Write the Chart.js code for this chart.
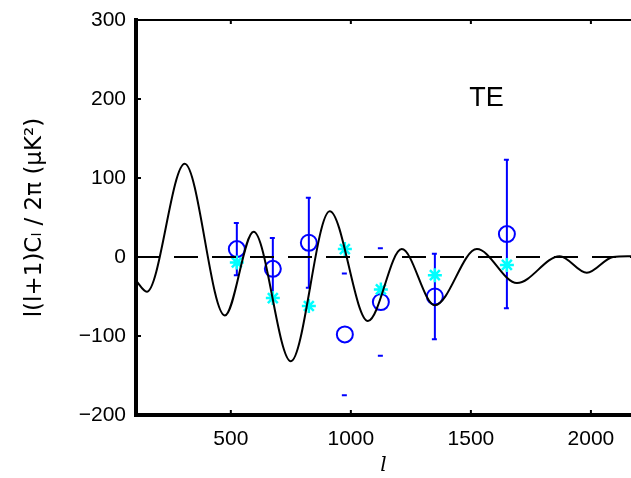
<!DOCTYPE html>
<html>
<head>
<meta charset="utf-8">
<script src="https://cdn.jsdelivr.net/npm/chart.js@4.4.0/dist/chart.umd.min.js"></script>
<style>
  html, body { margin: 0; padding: 0; background: #fff; }
</style>
</head>
<body>
<canvas id="teChart" width="631" height="478"></canvas>
<script>
// theory TE curve, its turning points (l, value)
var curveL  = [105, 150, 308, 475, 595, 750, 912, 1071, 1212, 1350, 1525, 1692, 1870, 1983, 2092, 2167];
var curveTE = [-30, -44, 118, -74, 32, -132, 58, -81, 10, -61, 10, -33, 1, -20, 0, 1];

// band powers (blue circles) with errors
var binL   = [525, 675, 825, 975, 1125, 1350, 1650];
var binTE  = [10, -15, 18, -98, -57, -50, 29];
var binErr = [33, 39, 57, 77, 68, 54, 94];
// these bins only show the caps of their error bar
var capOnly = [975, 1125];

// binned model (cyan stars)
var modelTE = [-7, -52, -62, 10, -41, -23, -10];

var xTicks = [500, 1000, 1500, 2000];
var yTicks = [-200, -100, 0, 100, 200, 300];
var xRange = [105, 2167];
var yRange = [-200, 300];

function pts(xs, ys) {
    return xs.map(function (x, i) { return { x: x, y: ys[i] }; });
}

var extras = {
    id: 'extras',
    beforeDatasetsDraw: function (chart) {
        var ctx = chart.ctx, xs = chart.scales.x, ys = chart.scales.y;
        ctx.save();
        ctx.strokeStyle = '#0000ff';
        ctx.lineWidth = 2;
        binL.forEach(function (l, i) {
            var px = xs.getPixelForValue(l);
            var top = ys.getPixelForValue(binTE[i] + binErr[i]);
            var bot = ys.getPixelForValue(binTE[i] - binErr[i]);
            ctx.beginPath();
            if (capOnly.indexOf(l) < 0) {
                ctx.moveTo(px, top);
                ctx.lineTo(px, bot);
            }
            ctx.moveTo(px - 3, top); ctx.lineTo(px + 2, top);
            ctx.moveTo(px - 3, bot); ctx.lineTo(px + 2, bot);
            ctx.stroke();
        });
        ctx.restore();
    },
    afterDraw: function (chart) {
        var ctx = chart.ctx, a = chart.chartArea, xs = chart.scales.x, ys = chart.scales.y;
        ctx.save();
        ctx.strokeStyle = '#000';
        // top frame
        ctx.lineWidth = 2;
        ctx.beginPath();
        ctx.moveTo(a.left, a.top);
        ctx.lineTo(a.right, a.top);
        ctx.stroke();
        // inward ticks
        ctx.beginPath();
        xTicks.forEach(function (v) {
            var px = xs.getPixelForValue(v);
            ctx.moveTo(px, a.top); ctx.lineTo(px, a.top + 4);
            ctx.moveTo(px, a.bottom); ctx.lineTo(px, a.bottom - 5);
        });
        yTicks.forEach(function (v) {
            var py = ys.getPixelForValue(v);
            ctx.moveTo(a.left, py); ctx.lineTo(a.left + 5, py);
        });
        ctx.stroke();
        // panel label
        ctx.fillStyle = '#000';
        ctx.font = '27px "Liberation Sans"';
        ctx.textAlign = 'center';
        ctx.textBaseline = 'middle';
        ctx.fillText('TE', xs.getPixelForValue(1565), ys.getPixelForValue(200));
        ctx.restore();
    }
};

var chart = new Chart(document.getElementById('teChart'), {
    type: 'scatter',
    data: {
        datasets: [
            {
                label: 'zero',
                data: pts(xRange, [0, 0]),
                showLine: true,
                borderColor: '#000',
                borderWidth: 2,
                borderDash: [24, 14],
                pointRadius: 0
            },
            {
                label: 'theory',
                data: pts(curveL, curveTE),
                showLine: true,
                borderColor: '#000',
                borderWidth: 2,
                cubicInterpolationMode: 'monotone',
                pointRadius: 0
            },
            {
                label: 'model',
                data: pts(binL, modelTE),
                pointStyle: 'star',
                pointRadius: 7,
                borderColor: '#00ffff',
                backgroundColor: '#00ffff',
                pointBorderWidth: 2.5
            },
            {
                label: 'data',
                data: pts(binL, binTE),
                pointStyle: 'circle',
                pointRadius: 8,
                borderColor: '#0000ff',
                backgroundColor: 'rgba(0,0,0,0)',
                pointBorderWidth: 2
            }
        ]
    },
    options: {
        responsive: false,
        animation: false,
        devicePixelRatio: 1,
        layout: { autoPadding: false, padding: { top: 20, right: 0, bottom: 0, left: 0 } },
        plugins: {
            legend: { display: false },
            tooltip: { enabled: false }
        },
        scales: {
            x: {
                type: 'linear',
                min: xRange[0],
                max: xRange[1],
                afterBuildTicks: function (s) { s.ticks = xTicks.map(function (v) { return { value: v }; }); },
                afterFit: function (s) { s.height = 63; s.paddingLeft = 0; s.paddingRight = 0; },
                grid: { display: false },
                border: { display: true, color: '#000', width: 4 },
                ticks: {
                    color: '#000',
                    font: { family: 'Liberation Sans', size: 21 },
                    padding: 4,
                    maxRotation: 0,
                    autoSkip: false,
                    callback: function (v) { return String(v); }
                },
                title: {
                    display: true,
                    text: 'l',
                    color: '#000',
                    font: { family: 'DejaVu Serif', size: 20, style: 'italic' },
                    padding: 0
                }
            },
            y: {
                min: yRange[0],
                max: yRange[1],
                afterBuildTicks: function (s) { s.ticks = yTicks.map(function (v) { return { value: v }; }); },
                afterFit: function (s) { s.width = 136; },
                grid: { display: false },
                border: { display: true, color: '#000', width: 4 },
                ticks: {
                    color: '#000',
                    font: { family: 'Liberation Sans', size: 21 },
                    padding: 2,
                    callback: function (v) { return String(v).replace('-', '\u2212'); }
                },
                title: {
                    display: true,
                    text: 'l(l+1)C\u2097 / 2\u03c0 (\u03bcK\u00b2)',
                    color: '#000',
                    font: { family: 'DejaVu Sans', size: 23 },
                    padding: { top: 21, bottom: 0 }
                }
            }
        }
    },
    plugins: [extras]
});
</script>
</body>
</html>
